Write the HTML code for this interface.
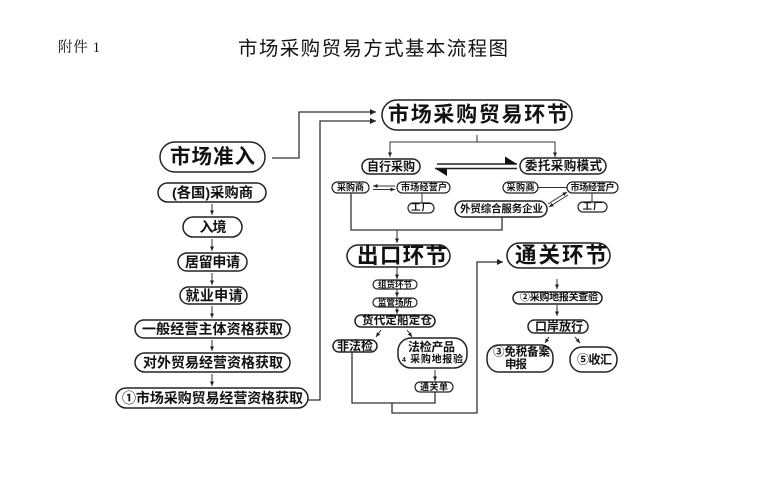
<!DOCTYPE html>
<html><head><meta charset="utf-8">
<style>
html,body{margin:0;padding:0;background:#fff;}
svg{display:block;}
text{font-family:"Liberation Sans","Noto Sans CJK SC",sans-serif;font-weight:700;fill:#111;}
.t{font-family:"Noto Sans CJK SC",sans-serif;font-weight:400;}
.s{font-family:"Liberation Serif","Noto Serif CJK SC",serif;font-weight:400;}
rect{fill:#fff;stroke:#222;stroke-width:1.5;}
.l{fill:none;stroke:#333;stroke-width:1.3;}
.a{fill:none;stroke:#333;stroke-width:1;}
</style></head>
<body>
<svg width="779" height="499" viewBox="0 0 779 499" xmlns="http://www.w3.org/2000/svg">
<defs>
<marker id="ah" markerUnits="userSpaceOnUse" markerWidth="7" markerHeight="7" refX="6" refY="3.5" orient="auto">
<path d="M0,0.5 L6,3.5 L0,6.5 Z" fill="#222"/>
</marker>
<marker id="as" markerUnits="userSpaceOnUse" markerWidth="5" markerHeight="5" refX="4.5" refY="2.5" orient="auto">
<path d="M0,0.5 L4.5,2.5 L0,4.5 Z" fill="#222"/>
</marker>
</defs>

<!-- header -->
<text class="s" x="58" y="48" font-size="14.5" dominant-baseline="central" textLength="42">附件 1</text>
<text class="t" x="373" y="46.5" font-size="19.5" text-anchor="middle" dominant-baseline="central" textLength="270" lengthAdjust="spacing">市场采购贸易方式基本流程图</text>

<!-- left column connectors -->
<polyline class="l" points="272,158 299,158 299,112 376,112" marker-end="url(#ah)"/>
<polyline class="l" points="308,400 320,400 320,121 376,121" marker-end="url(#ah)"/>
<line class="a" x1="212" y1="204" x2="212" y2="215" marker-end="url(#as)"/>
<line class="a" x1="212" y1="239" x2="212" y2="251" marker-end="url(#as)"/>
<line class="a" x1="212" y1="273" x2="212" y2="285" marker-end="url(#as)"/>
<line class="a" x1="212" y1="306" x2="212" y2="318" marker-end="url(#as)"/>
<line class="a" x1="212" y1="340" x2="212" y2="351" marker-end="url(#as)"/>
<line class="a" x1="212" y1="374" x2="212" y2="386" marker-end="url(#as)"/>

<!-- left column pills -->
<rect x="160" y="142" width="105" height="30" rx="15"/>
<text x="212.5" y="157" font-size="20.5" text-anchor="middle" dominant-baseline="central" textLength="85" lengthAdjust="spacing">市场准入</text>
<rect x="158" y="183" width="108" height="19" rx="9.5"/>
<text x="212.5" y="192.5" font-size="14" text-anchor="middle" dominant-baseline="central" textLength="81" lengthAdjust="spacingAndGlyphs">(各国)采购商</text>
<rect x="183" y="217" width="59" height="20" rx="10"/>
<text x="213" y="227" font-size="14" text-anchor="middle" dominant-baseline="central" textLength="27">入境</text>
<rect x="178" y="253" width="69" height="18" rx="9"/>
<text x="212.5" y="262" font-size="14" text-anchor="middle" dominant-baseline="central" textLength="55">居留申请</text>
<rect x="180" y="287" width="67" height="17" rx="8.5"/>
<text x="214" y="295.5" font-size="14" text-anchor="middle" dominant-baseline="central" textLength="57">就业申请</text>
<rect x="135" y="320" width="155" height="18" rx="9"/>
<text x="212.5" y="329" font-size="14" text-anchor="middle" dominant-baseline="central" textLength="141">一般经营主体资格获取</text>
<rect x="135" y="353" width="155" height="19" rx="9.5"/>
<text x="213" y="362.5" font-size="14" text-anchor="middle" dominant-baseline="central" textLength="140">对外贸易经营资格获取</text>
<rect x="116" y="388" width="192" height="20" rx="10"/>
<text x="212.5" y="398" font-size="14" text-anchor="middle" dominant-baseline="central" textLength="181">①市场采购贸易经营资格获取</text>

<!-- top section -->
<rect x="382" y="100" width="190" height="30" rx="15"/>
<text x="478" y="115" font-size="21" text-anchor="middle" dominant-baseline="central" textLength="180" lengthAdjust="spacing">市场采购贸易环节</text>
<line class="a" x1="477" y1="135" x2="477" y2="142"/>
<polyline class="a" points="390,157 390,142 555,142 555,157"/>
<line class="a" x1="390" y1="148" x2="390" y2="157" marker-end="url(#as)"/>
<line class="a" x1="555" y1="148" x2="555" y2="157" marker-end="url(#as)"/>

<rect x="362" y="159" width="58" height="15" rx="7.5"/>
<text x="391" y="166.5" font-size="12" text-anchor="middle" dominant-baseline="central" textLength="48">自行采购</text>
<rect x="520" y="158" width="86" height="16" rx="8"/>
<text x="563.5" y="166" font-size="12.5" text-anchor="middle" dominant-baseline="central" textLength="77">委托采购模式</text>

<!-- double arrow between modes -->
<line x1="437" y1="164" x2="517" y2="164" stroke="#222" stroke-width="1.6"/>
<path d="M505,156.5 L517,164 L505,164 Z" fill="#111"/>
<line x1="435" y1="168.5" x2="517" y2="168.5" stroke="#222" stroke-width="1.6"/>
<path d="M435,168.5 L447,168.5 L447,176 Z" fill="#111"/>

<!-- left sub -->
<rect x="332" y="182" width="37" height="11" rx="5.5" style="stroke-width:1.2"/>
<text x="350.5" y="187.5" font-size="9" text-anchor="middle" dominant-baseline="central" textLength="27">采购商</text>
<line class="a" x1="395" y1="186" x2="373" y2="186" marker-end="url(#as)"/>
<line class="a" x1="373" y1="189.5" x2="395" y2="189.5" marker-end="url(#as)"/>
<rect x="397" y="182" width="53" height="11" rx="5.5" style="stroke-width:1.2"/>
<text x="424" y="187.5" font-size="9" text-anchor="middle" dominant-baseline="central" textLength="46">市场经营户</text>
<line class="a" x1="422" y1="193" x2="422" y2="203"/>
<rect x="408" y="203" width="26" height="10" rx="5" style="stroke-width:1.2"/>
<text x="421" y="208" font-size="9.5" text-anchor="middle" dominant-baseline="central" textLength="20">工厂</text>

<!-- right sub -->
<rect x="503" y="182" width="35" height="11" rx="5.5" style="stroke-width:1.2"/>
<text x="520.5" y="187.5" font-size="9" text-anchor="middle" dominant-baseline="central" textLength="28">采购商</text>
<line class="a" x1="538" y1="187.5" x2="567" y2="187.5"/>
<rect x="567" y="182" width="51" height="11" rx="5.5" style="stroke-width:1.2"/>
<text x="592.5" y="187.5" font-size="9" text-anchor="middle" dominant-baseline="central" textLength="44">市场经营户</text>
<line class="a" x1="592" y1="193" x2="592" y2="202"/>
<rect x="578" y="202" width="29" height="10" rx="5" style="stroke-width:1.2"/>
<text x="592.5" y="207" font-size="9.5" text-anchor="middle" dominant-baseline="central" textLength="20">工厂</text>
<rect x="455" y="201" width="92" height="16" rx="8"/>
<text x="501.5" y="209" font-size="10.5" text-anchor="middle" dominant-baseline="central" textLength="83">外贸综合服务企业</text>
<line class="a" x1="548" y1="204" x2="567" y2="192" marker-end="url(#as)"/>
<line class="a" x1="568" y1="195" x2="549" y2="207" marker-end="url(#as)"/>

<!-- to export -->
<polyline class="l" points="351,193 351,230 502,230 502,217"/>
<line class="a" x1="397" y1="230" x2="397" y2="243" marker-end="url(#as)"/>

<!-- export section -->
<rect x="347" y="245" width="103" height="22" rx="11"/>
<text x="402" y="256" font-size="21.5" text-anchor="middle" dominant-baseline="central" textLength="90" lengthAdjust="spacing">出口环节</text>
<line class="a" x1="397" y1="267" x2="397" y2="279" marker-end="url(#as)"/>
<rect x="373" y="280" width="44" height="9" rx="4.5" style="stroke-width:1.2"/>
<text x="395" y="284.5" font-size="8.5" text-anchor="middle" dominant-baseline="central" textLength="34">组货环节</text>
<line class="a" x1="397" y1="289" x2="397" y2="297" marker-end="url(#as)"/>
<rect x="373" y="298" width="44" height="9" rx="4.5" style="stroke-width:1.2"/>
<text x="395" y="302.5" font-size="8.5" text-anchor="middle" dominant-baseline="central" textLength="34">监管场所</text>
<line class="a" x1="397" y1="307" x2="397" y2="314" marker-end="url(#as)"/>
<rect x="355" y="315" width="80" height="12" rx="6"/>
<text x="397" y="321" font-size="11.5" text-anchor="middle" dominant-baseline="central" textLength="70">货代定船定仓</text>
<line class="a" x1="381" y1="330" x2="376" y2="337" marker-end="url(#as)"/>
<line class="a" x1="407" y1="330" x2="412" y2="337" marker-end="url(#as)"/>
<rect x="333" y="340" width="44" height="12" rx="6"/>
<text x="355" y="346" font-size="12" text-anchor="middle" dominant-baseline="central" textLength="36">非法检</text>
<rect x="398" y="338" width="69" height="30" rx="13"/>
<text x="431.5" y="347" font-size="12" text-anchor="middle" dominant-baseline="central" textLength="47">法检产品</text>
<text x="432.5" y="360" font-size="10" text-anchor="middle" dominant-baseline="central" textLength="61"><tspan font-size="7">4</tspan> 采购地报验</text>
<line class="a" x1="435" y1="370" x2="435" y2="381" marker-end="url(#as)"/>
<rect x="415" y="382" width="38" height="10" rx="5" style="stroke-width:1.2"/>
<text x="434" y="387" font-size="9" text-anchor="middle" dominant-baseline="central" textLength="28">通关单</text>
<polyline class="l" points="352,352 352,403 435,403 435,392"/>
<polyline class="l" points="392,403 392,413 477,413 477,262 503,262" marker-end="url(#ah)"/>

<!-- customs section -->
<rect x="507" y="243" width="103" height="25" rx="12.5"/>
<text x="561" y="255.5" font-size="21.5" text-anchor="middle" dominant-baseline="central" textLength="92" lengthAdjust="spacing">通关环节</text>
<line class="a" x1="557" y1="279" x2="557" y2="289" marker-end="url(#as)"/>
<rect x="513" y="292" width="89" height="12" rx="6"/>
<text x="559" y="298" font-size="10" text-anchor="middle" dominant-baseline="central" textLength="78">②采购地报关查验</text>
<line class="a" x1="557" y1="305" x2="557" y2="316" marker-end="url(#as)"/>
<rect x="528" y="320" width="60" height="13" rx="6.5"/>
<text x="559" y="326.5" font-size="12" text-anchor="middle" dominant-baseline="central" textLength="48">口岸放行</text>
<line class="a" x1="549" y1="337" x2="545" y2="343" marker-end="url(#as)"/>
<line class="a" x1="575" y1="337" x2="580" y2="343" marker-end="url(#as)"/>
<rect x="487" y="345" width="66" height="27" rx="12"/>
<text x="521.5" y="352.5" font-size="11.5" text-anchor="middle" dominant-baseline="central" textLength="57">③免税备案</text>
<text x="516" y="365" font-size="11.5" text-anchor="middle" dominant-baseline="central" textLength="22">申报</text>
<rect x="570" y="347" width="47" height="25" rx="12"/>
<text x="594.5" y="359.5" font-size="12" text-anchor="middle" dominant-baseline="central" textLength="35">⑤收汇</text>
</svg>
</body></html>
